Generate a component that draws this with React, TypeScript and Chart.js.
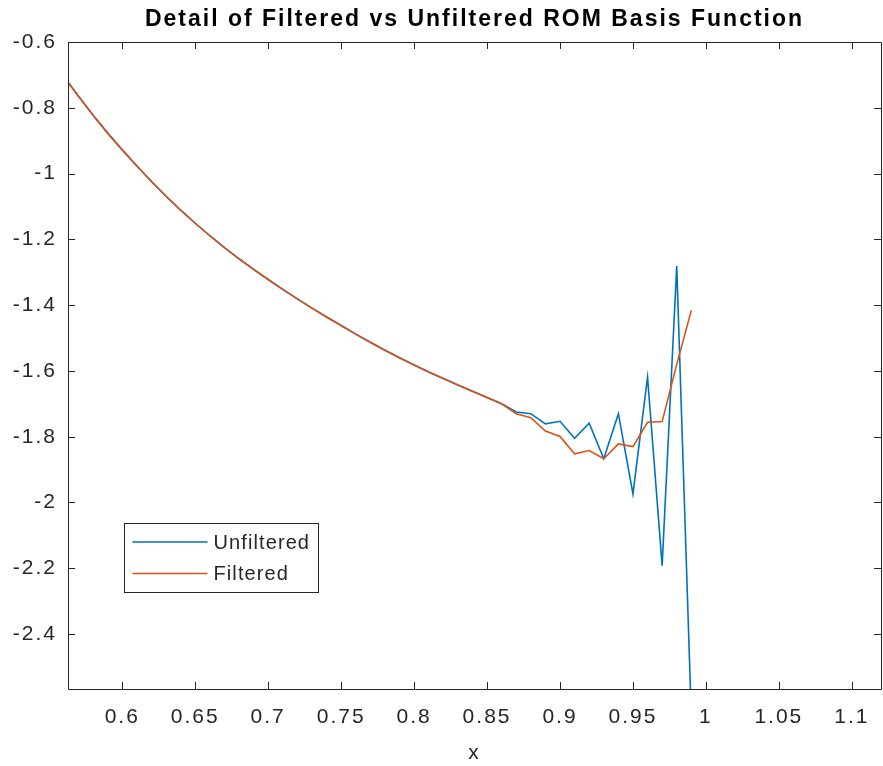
import React, { useEffect, useRef } from "react";
import { Chart, registerables } from "chart.js";

Chart.register(...registerables);

// Sample positions of the basis function (step 0.01)
const X_VALUES = [
  0.56, 0.57, 0.58, 0.59, 0.6, 0.61, 0.62, 0.63, 0.64, 0.65,
  0.66, 0.67, 0.68, 0.69, 0.7, 0.71, 0.72, 0.73, 0.74, 0.75,
  0.76, 0.77, 0.78, 0.79, 0.8, 0.81, 0.82, 0.83, 0.84, 0.85,
  0.86, 0.87, 0.88, 0.89, 0.9, 0.91, 0.92, 0.93, 0.94, 0.95,
  0.96, 0.97, 0.98, 0.99,
];

const UNFILTERED = [
  -0.705, -0.765, -0.823, -0.877, -0.928, -0.977, -1.024, -1.069, -1.111, -1.151,
  -1.189, -1.225, -1.259, -1.291, -1.322, -1.352, -1.381, -1.409, -1.436, -1.462,
  -1.488, -1.513, -1.537, -1.56, -1.582, -1.603, -1.623, -1.643, -1.662, -1.681,
  -1.7, -1.725, -1.73, -1.761, -1.753, -1.805, -1.759, -1.867, -1.73, -1.974,
  -1.619, -2.192, -1.281, -2.65,
];

const FILTERED = [
  -0.705, -0.765, -0.823, -0.877, -0.928, -0.977, -1.024, -1.069, -1.111, -1.151,
  -1.189, -1.225, -1.259, -1.291, -1.322, -1.352, -1.381, -1.409, -1.436, -1.462,
  -1.488, -1.513, -1.537, -1.56, -1.582, -1.603, -1.623, -1.643, -1.662, -1.681,
  -1.7, -1.73, -1.742, -1.783, -1.799, -1.852, -1.842, -1.867, -1.822, -1.83,
  -1.756, -1.754, -1.58, -1.416,
];

const X_TICKS = [0.6, 0.65, 0.7, 0.75, 0.8, 0.85, 0.9, 0.95, 1, 1.05, 1.1];
const Y_TICKS = [-2.4, -2.2, -2, -1.8, -1.6, -1.4, -1.2, -1, -0.8, -0.6];

const X_MIN = 0.5628;
const X_MAX = 1.12;
const Y_MIN = -2.567;
const Y_MAX = -0.6;

const TITLE = "Detail of Filtered vs Unfiltered ROM Basis Function";
const X_LABEL = "x";

const BLUE = "#0072BD";
const ORANGE = "#D95319";
const AXIS = "#262626";
const FONT = "'Liberation Sans', Arial, Helvetica, sans-serif";

// Slightly wider letter spacing for all text drawn by the chart
const textSpacingPlugin = {
  id: "textSpacing",
  beforeUpdate(chart: any) {
    chart.ctx.letterSpacing = "2px";
  },
  beforeDraw(chart: any) {
    chart.ctx.letterSpacing = "2px";
  },
};

// Box around the axes with inward tick marks on all four sides, plus the legend
const axesBoxPlugin = {
  id: "axesBox",
  afterDraw(chart: any) {
    const { ctx, chartArea } = chart;
    const { left, right, top, bottom } = chartArea;
    const xs = chart.scales.x;
    const ys = chart.scales.y;
    const tick = 7;
    ctx.save();
    ctx.strokeStyle = AXIS;
    ctx.lineWidth = 1;
    ctx.beginPath();
    ctx.rect(Math.round(left) + 0.5, Math.round(top) + 0.5, Math.round(right - left), Math.round(bottom - top));
    for (const v of X_TICKS) {
      const px = Math.round(xs.getPixelForValue(v)) + 0.5;
      ctx.moveTo(px, bottom);
      ctx.lineTo(px, bottom - tick);
      ctx.moveTo(px, top);
      ctx.lineTo(px, top + tick);
    }
    for (const v of Y_TICKS) {
      const py = Math.round(ys.getPixelForValue(v)) + 0.5;
      ctx.moveTo(left, py);
      ctx.lineTo(left + tick, py);
      ctx.moveTo(right, py);
      ctx.lineTo(right - tick, py);
    }
    ctx.stroke();

    // Legend box
    const lx = Math.round(left + 56) + 0.5;
    const ly = Math.round(top + 481) + 0.5;
    const lw = 194;
    const lh = 69;
    ctx.fillStyle = "#ffffff";
    ctx.fillRect(lx, ly, lw, lh);
    ctx.strokeStyle = AXIS;
    ctx.strokeRect(lx, ly, lw, lh);
    const rows = [18.5, 50];
    chart.data.datasets.forEach((ds: any, i: number) => {
      const ry = ly + rows[i];
      ctx.strokeStyle = ds.borderColor;
      ctx.lineWidth = 1.6;
      ctx.beginPath();
      ctx.moveTo(lx + 8, ry);
      ctx.lineTo(lx + 83, ry);
      ctx.stroke();
      ctx.fillStyle = AXIS;
      ctx.font = `20px ${FONT}`;
      ctx.letterSpacing = "1.1px";
      ctx.textBaseline = "middle";
      ctx.textAlign = "left";
      ctx.fillText(ds.label, lx + 89, ry + 1);
    });
    ctx.restore();
  },
};

export default function App() {
  const canvasRef = useRef<HTMLCanvasElement | null>(null);

  useEffect(() => {
    const canvas = canvasRef.current;
    if (!canvas) return;
    const chart = new Chart(canvas, {
      type: "line",
      data: {
        datasets: [
          {
            label: "Unfiltered",
            data: X_VALUES.map((x, i) => ({ x, y: UNFILTERED[i] })),
            borderColor: BLUE,
            borderWidth: 1.6,
            pointRadius: 0,
            tension: 0,
            order: 1,
          },
          {
            label: "Filtered",
            data: X_VALUES.map((x, i) => ({ x, y: FILTERED[i] })),
            borderColor: ORANGE,
            borderWidth: 1.6,
            pointRadius: 0,
            tension: 0,
            order: 0,
          },
        ],
      },
      options: {
        responsive: false,
        animation: false,
        layout: { padding: { left: 0, right: 2, top: 0, bottom: 0 } },
        plugins: {
          legend: { display: false },
          tooltip: { enabled: false },
          title: {
            display: true,
            fullSize: false,
            text: TITLE,
            color: "#000000",
            font: { family: FONT, size: 23, weight: "bold" },
            padding: { top: 5.5, bottom: 8.9 },
          },
        },
        scales: {
          x: {
            type: "linear",
            min: X_MIN,
            max: X_MAX,
            grid: { display: false, drawTicks: false },
            border: { display: false },
            afterBuildTicks: (scale: any) => {
              scale.ticks = X_TICKS.map((value) => ({ value }));
            },
            afterFit: (scale: any) => {
              scale.height = 77;
              scale.paddingLeft = 0;
              scale.paddingRight = 0;
            },
            ticks: {
              color: AXIS,
              font: { family: FONT, size: 21 },
              padding: 16,
              maxRotation: 0,
              autoSkip: false,
              callback: (v: any) => String(v),
            },
            title: {
              display: true,
              text: X_LABEL,
              color: AXIS,
              font: { family: FONT, size: 21 },
              padding: { top: 4, bottom: 0 },
            },
          },
          y: {
            type: "linear",
            min: Y_MIN,
            max: Y_MAX,
            grid: { display: false, drawTicks: false },
            border: { display: false },
            afterBuildTicks: (scale: any) => {
              scale.ticks = Y_TICKS.map((value) => ({ value }));
            },
            afterFit: (scale: any) => {
              scale.width = 68;
            },
            ticks: {
              color: AXIS,
              font: { family: FONT, size: 21 },
              padding: 11,
              autoSkip: false,
              callback: (v: any) => String(v),
            },
          },
        },
      },
      plugins: [textSpacingPlugin, axesBoxPlugin],
    });
    return () => chart.destroy();
  }, []);

  return (
    <div style={{ position: "absolute", left: 0, top: 0, width: 883, height: 766, background: "#ffffff" }}>
      <canvas ref={canvasRef} width={883} height={766} style={{ display: "block" }} />
    </div>
  );
}
